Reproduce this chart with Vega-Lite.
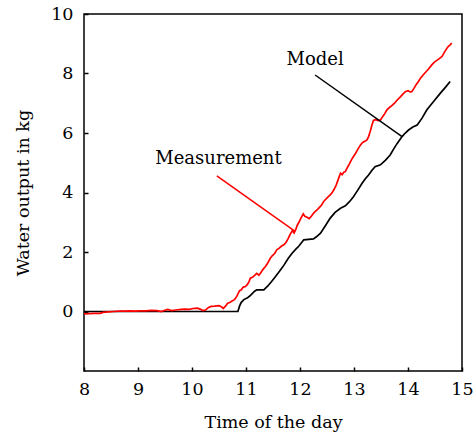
{
  "$schema": "https://vega.github.io/schema/vega-lite/v6.json",
  "autosize": {"type": "none"},
  "width": 378,
  "height": 357,
  "padding": {"left": 84, "top": 14, "right": 14, "bottom": 65},
  "background": "white",
  "config": {
    "view": {"stroke": "black", "strokeWidth": 1.5},
    "font": "DejaVu Serif",
    "axis": {
      "domain": false,
      "grid": false,
      "ticks": true,
      "tickSize": -4,
      "tickColor": "black",
      "tickWidth": 1.5,
      "labelFont": "DejaVu Serif",
      "labelFontSize": 17.5,
      "labelColor": "black",
      "labelPadding": 15,
      "labelFlush": false,
      "labelOverlap": false,
      "format": "d",
      "titleFont": "DejaVu Serif",
      "titleFontSize": 17.5,
      "titleFontWeight": "normal",
      "titleColor": "black"
    }
  },
  "datasets": {
    "lines": [
      {"t": 8.0, "v": 0, "s": "Model"},
      {"t": 10.85, "v": 0, "s": "Model"},
      {"t": 10.88, "v": 0.18, "s": "Model"},
      {"t": 10.91, "v": 0.3, "s": "Model"},
      {"t": 10.96, "v": 0.4, "s": "Model"},
      {"t": 11.02, "v": 0.45, "s": "Model"},
      {"t": 11.07, "v": 0.52, "s": "Model"},
      {"t": 11.11, "v": 0.59, "s": "Model"},
      {"t": 11.16, "v": 0.68, "s": "Model"},
      {"t": 11.2, "v": 0.73, "s": "Model"},
      {"t": 11.33, "v": 0.73, "s": "Model"},
      {"t": 11.4, "v": 0.85, "s": "Model"},
      {"t": 11.47, "v": 1.0, "s": "Model"},
      {"t": 11.54, "v": 1.16, "s": "Model"},
      {"t": 11.62, "v": 1.35, "s": "Model"},
      {"t": 11.7, "v": 1.55, "s": "Model"},
      {"t": 11.78, "v": 1.78, "s": "Model"},
      {"t": 11.85, "v": 1.95, "s": "Model"},
      {"t": 11.91, "v": 2.07, "s": "Model"},
      {"t": 11.98, "v": 2.2, "s": "Model"},
      {"t": 12.07, "v": 2.41, "s": "Model"},
      {"t": 12.25, "v": 2.44, "s": "Model"},
      {"t": 12.31, "v": 2.52, "s": "Model"},
      {"t": 12.38, "v": 2.63, "s": "Model"},
      {"t": 12.47, "v": 2.88, "s": "Model"},
      {"t": 12.56, "v": 3.14, "s": "Model"},
      {"t": 12.65, "v": 3.33, "s": "Model"},
      {"t": 12.75, "v": 3.47, "s": "Model"},
      {"t": 12.84, "v": 3.55, "s": "Model"},
      {"t": 12.92, "v": 3.7, "s": "Model"},
      {"t": 12.99, "v": 3.86, "s": "Model"},
      {"t": 13.07, "v": 4.08, "s": "Model"},
      {"t": 13.15, "v": 4.31, "s": "Model"},
      {"t": 13.21, "v": 4.46, "s": "Model"},
      {"t": 13.27, "v": 4.59, "s": "Model"},
      {"t": 13.33, "v": 4.74, "s": "Model"},
      {"t": 13.39, "v": 4.87, "s": "Model"},
      {"t": 13.49, "v": 4.93, "s": "Model"},
      {"t": 13.58, "v": 5.08, "s": "Model"},
      {"t": 13.67, "v": 5.26, "s": "Model"},
      {"t": 13.73, "v": 5.45, "s": "Model"},
      {"t": 13.8, "v": 5.65, "s": "Model"},
      {"t": 13.89, "v": 5.88, "s": "Model"},
      {"t": 13.95, "v": 6.0, "s": "Model"},
      {"t": 14.01, "v": 6.1, "s": "Model"},
      {"t": 14.09, "v": 6.2, "s": "Model"},
      {"t": 14.17, "v": 6.27, "s": "Model"},
      {"t": 14.26, "v": 6.5, "s": "Model"},
      {"t": 14.35, "v": 6.78, "s": "Model"},
      {"t": 14.47, "v": 7.05, "s": "Model"},
      {"t": 14.6, "v": 7.34, "s": "Model"},
      {"t": 14.7, "v": 7.55, "s": "Model"},
      {"t": 14.78, "v": 7.73, "s": "Model"},
      {"t": 8.0, "v": -0.08, "s": "Measurement"},
      {"t": 8.1, "v": -0.07, "s": "Measurement"},
      {"t": 8.2, "v": -0.06, "s": "Measurement"},
      {"t": 8.3, "v": -0.06, "s": "Measurement"},
      {"t": 8.35, "v": -0.03, "s": "Measurement"},
      {"t": 8.45, "v": -0.01, "s": "Measurement"},
      {"t": 8.55, "v": 0.0, "s": "Measurement"},
      {"t": 8.65, "v": 0.01, "s": "Measurement"},
      {"t": 8.75, "v": 0.01, "s": "Measurement"},
      {"t": 8.85, "v": 0.02, "s": "Measurement"},
      {"t": 8.95, "v": 0.01, "s": "Measurement"},
      {"t": 9.05, "v": 0.02, "s": "Measurement"},
      {"t": 9.15, "v": 0.02, "s": "Measurement"},
      {"t": 9.25, "v": 0.04, "s": "Measurement"},
      {"t": 9.35, "v": 0.03, "s": "Measurement"},
      {"t": 9.43, "v": 0.0, "s": "Measurement"},
      {"t": 9.5, "v": 0.04, "s": "Measurement"},
      {"t": 9.55, "v": 0.07, "s": "Measurement"},
      {"t": 9.62, "v": 0.03, "s": "Measurement"},
      {"t": 9.7, "v": 0.05, "s": "Measurement"},
      {"t": 9.8, "v": 0.07, "s": "Measurement"},
      {"t": 9.87, "v": 0.08, "s": "Measurement"},
      {"t": 9.95, "v": 0.07, "s": "Measurement"},
      {"t": 10.02, "v": 0.1, "s": "Measurement"},
      {"t": 10.1, "v": 0.11, "s": "Measurement"},
      {"t": 10.15, "v": 0.08, "s": "Measurement"},
      {"t": 10.2, "v": 0.03, "s": "Measurement"},
      {"t": 10.25, "v": 0.05, "s": "Measurement"},
      {"t": 10.3, "v": 0.13, "s": "Measurement"},
      {"t": 10.35, "v": 0.17, "s": "Measurement"},
      {"t": 10.42, "v": 0.18, "s": "Measurement"},
      {"t": 10.5, "v": 0.2, "s": "Measurement"},
      {"t": 10.55, "v": 0.15, "s": "Measurement"},
      {"t": 10.58, "v": 0.1, "s": "Measurement"},
      {"t": 10.62, "v": 0.18, "s": "Measurement"},
      {"t": 10.66, "v": 0.28, "s": "Measurement"},
      {"t": 10.7, "v": 0.3, "s": "Measurement"},
      {"t": 10.74, "v": 0.35, "s": "Measurement"},
      {"t": 10.78, "v": 0.39, "s": "Measurement"},
      {"t": 10.81, "v": 0.45, "s": "Measurement"},
      {"t": 10.84, "v": 0.55, "s": "Measurement"},
      {"t": 10.88, "v": 0.7, "s": "Measurement"},
      {"t": 10.91, "v": 0.72, "s": "Measurement"},
      {"t": 10.95, "v": 0.82, "s": "Measurement"},
      {"t": 10.99, "v": 0.84, "s": "Measurement"},
      {"t": 11.03, "v": 0.92, "s": "Measurement"},
      {"t": 11.06, "v": 1.02, "s": "Measurement"},
      {"t": 11.08, "v": 1.12, "s": "Measurement"},
      {"t": 11.12, "v": 1.15, "s": "Measurement"},
      {"t": 11.17, "v": 1.23, "s": "Measurement"},
      {"t": 11.2, "v": 1.28, "s": "Measurement"},
      {"t": 11.24, "v": 1.22, "s": "Measurement"},
      {"t": 11.27, "v": 1.29, "s": "Measurement"},
      {"t": 11.3, "v": 1.38, "s": "Measurement"},
      {"t": 11.33, "v": 1.45, "s": "Measurement"},
      {"t": 11.36, "v": 1.51, "s": "Measurement"},
      {"t": 11.4, "v": 1.62, "s": "Measurement"},
      {"t": 11.45, "v": 1.79, "s": "Measurement"},
      {"t": 11.49, "v": 1.88, "s": "Measurement"},
      {"t": 11.53, "v": 1.95, "s": "Measurement"},
      {"t": 11.57, "v": 2.07, "s": "Measurement"},
      {"t": 11.61, "v": 2.12, "s": "Measurement"},
      {"t": 11.66, "v": 2.2, "s": "Measurement"},
      {"t": 11.7, "v": 2.24, "s": "Measurement"},
      {"t": 11.74, "v": 2.32, "s": "Measurement"},
      {"t": 11.78, "v": 2.45, "s": "Measurement"},
      {"t": 11.82, "v": 2.6, "s": "Measurement"},
      {"t": 11.86, "v": 2.72, "s": "Measurement"},
      {"t": 11.89, "v": 2.64, "s": "Measurement"},
      {"t": 11.92, "v": 2.75, "s": "Measurement"},
      {"t": 11.95, "v": 2.9, "s": "Measurement"},
      {"t": 11.98, "v": 3.0, "s": "Measurement"},
      {"t": 12.02, "v": 3.15, "s": "Measurement"},
      {"t": 12.06, "v": 3.28, "s": "Measurement"},
      {"t": 12.09, "v": 3.2, "s": "Measurement"},
      {"t": 12.13, "v": 3.17, "s": "Measurement"},
      {"t": 12.17, "v": 3.12, "s": "Measurement"},
      {"t": 12.21, "v": 3.2, "s": "Measurement"},
      {"t": 12.25, "v": 3.3, "s": "Measurement"},
      {"t": 12.28, "v": 3.36, "s": "Measurement"},
      {"t": 12.32, "v": 3.42, "s": "Measurement"},
      {"t": 12.36, "v": 3.5, "s": "Measurement"},
      {"t": 12.4, "v": 3.58, "s": "Measurement"},
      {"t": 12.44, "v": 3.7, "s": "Measurement"},
      {"t": 12.48, "v": 3.78, "s": "Measurement"},
      {"t": 12.52, "v": 3.85, "s": "Measurement"},
      {"t": 12.56, "v": 3.92, "s": "Measurement"},
      {"t": 12.59, "v": 3.98, "s": "Measurement"},
      {"t": 12.63, "v": 4.1, "s": "Measurement"},
      {"t": 12.67, "v": 4.25, "s": "Measurement"},
      {"t": 12.71, "v": 4.45, "s": "Measurement"},
      {"t": 12.75, "v": 4.65, "s": "Measurement"},
      {"t": 12.78, "v": 4.6, "s": "Measurement"},
      {"t": 12.81, "v": 4.68, "s": "Measurement"},
      {"t": 12.84, "v": 4.7, "s": "Measurement"},
      {"t": 12.88, "v": 4.85, "s": "Measurement"},
      {"t": 12.92, "v": 4.98, "s": "Measurement"},
      {"t": 12.96, "v": 5.12, "s": "Measurement"},
      {"t": 12.99, "v": 5.21, "s": "Measurement"},
      {"t": 13.03, "v": 5.32, "s": "Measurement"},
      {"t": 13.07, "v": 5.45, "s": "Measurement"},
      {"t": 13.12, "v": 5.6, "s": "Measurement"},
      {"t": 13.16, "v": 5.68, "s": "Measurement"},
      {"t": 13.2, "v": 5.72, "s": "Measurement"},
      {"t": 13.24, "v": 5.77, "s": "Measurement"},
      {"t": 13.27, "v": 5.88, "s": "Measurement"},
      {"t": 13.3, "v": 6.05, "s": "Measurement"},
      {"t": 13.33, "v": 6.25, "s": "Measurement"},
      {"t": 13.36, "v": 6.42, "s": "Measurement"},
      {"t": 13.4, "v": 6.45, "s": "Measurement"},
      {"t": 13.45, "v": 6.42, "s": "Measurement"},
      {"t": 13.49, "v": 6.44, "s": "Measurement"},
      {"t": 13.53, "v": 6.55, "s": "Measurement"},
      {"t": 13.57, "v": 6.65, "s": "Measurement"},
      {"t": 13.61, "v": 6.78, "s": "Measurement"},
      {"t": 13.65, "v": 6.85, "s": "Measurement"},
      {"t": 13.7, "v": 6.92, "s": "Measurement"},
      {"t": 13.75, "v": 7.0, "s": "Measurement"},
      {"t": 13.8, "v": 7.11, "s": "Measurement"},
      {"t": 13.85, "v": 7.2, "s": "Measurement"},
      {"t": 13.9, "v": 7.3, "s": "Measurement"},
      {"t": 13.95, "v": 7.39, "s": "Measurement"},
      {"t": 14.0, "v": 7.42, "s": "Measurement"},
      {"t": 14.04, "v": 7.38, "s": "Measurement"},
      {"t": 14.07, "v": 7.39, "s": "Measurement"},
      {"t": 14.11, "v": 7.5, "s": "Measurement"},
      {"t": 14.15, "v": 7.62, "s": "Measurement"},
      {"t": 14.19, "v": 7.72, "s": "Measurement"},
      {"t": 14.23, "v": 7.84, "s": "Measurement"},
      {"t": 14.28, "v": 7.95, "s": "Measurement"},
      {"t": 14.33, "v": 8.05, "s": "Measurement"},
      {"t": 14.38, "v": 8.15, "s": "Measurement"},
      {"t": 14.44, "v": 8.29, "s": "Measurement"},
      {"t": 14.49, "v": 8.38, "s": "Measurement"},
      {"t": 14.54, "v": 8.45, "s": "Measurement"},
      {"t": 14.58, "v": 8.5, "s": "Measurement"},
      {"t": 14.63, "v": 8.57, "s": "Measurement"},
      {"t": 14.67, "v": 8.7, "s": "Measurement"},
      {"t": 14.71, "v": 8.82, "s": "Measurement"},
      {"t": 14.74, "v": 8.9, "s": "Measurement"},
      {"t": 14.78, "v": 8.96, "s": "Measurement"},
      {"t": 14.81, "v": 9.02, "s": "Measurement"}
    ],
    "notes": [
      {"label": "Model", "tx": 12.28, "ty": 8.28, "x1": 12.28, "y1": 7.95, "x2": 13.89, "y2": 5.88, "c": "#000000"},
      {"label": "Measurement", "tx": 10.49, "ty": 4.95, "x1": 10.46, "y1": 4.56, "x2": 11.91, "y2": 2.69, "c": "#ff0000"}
    ]
  },
  "layer": [
    {
      "data": {"name": "lines"},
      "transform": [{"filter": "datum.s === 'Model'"}],
      "mark": {"type": "line", "color": "black", "strokeWidth": 1.7},
      "encoding": {
        "x": {"field": "t", "type": "quantitative", "scale": {"domain": [8, 15], "nice": false}, "axis": {"values": [8, 9, 10, 11, 12, 13, 14, 15], "title": "Time of the day", "labelPadding": 13, "titlePadding": 16}},
        "y": {"field": "v", "type": "quantitative", "scale": {"domain": [-2, 10], "nice": false}, "axis": {"values": [0, 2, 4, 6, 8, 10], "title": "Water output in kg", "titlePadding": 18}}
      }
    },
    {
      "data": {"name": "lines"},
      "transform": [{"filter": "datum.s === 'Measurement'"}],
      "mark": {"type": "line", "color": "#ff0000", "strokeWidth": 1.7},
      "encoding": {
        "x": {"field": "t", "type": "quantitative"},
        "y": {"field": "v", "type": "quantitative"}
      }
    },
    {
      "data": {"name": "notes"},
      "mark": {"type": "rule", "strokeWidth": 1.5},
      "encoding": {
        "x": {"field": "x1", "type": "quantitative"},
        "y": {"field": "y1", "type": "quantitative"},
        "x2": {"field": "x2"},
        "y2": {"field": "y2"},
        "color": {"field": "c", "type": "nominal", "scale": null}
      }
    },
    {
      "data": {"name": "notes"},
      "mark": {"type": "text", "font": "DejaVu Serif", "fontSize": 18, "color": "black", "align": "center", "baseline": "alphabetic"},
      "encoding": {
        "x": {"field": "tx", "type": "quantitative"},
        "y": {"field": "ty", "type": "quantitative"},
        "text": {"field": "label"}
      }
    }
  ]
}
